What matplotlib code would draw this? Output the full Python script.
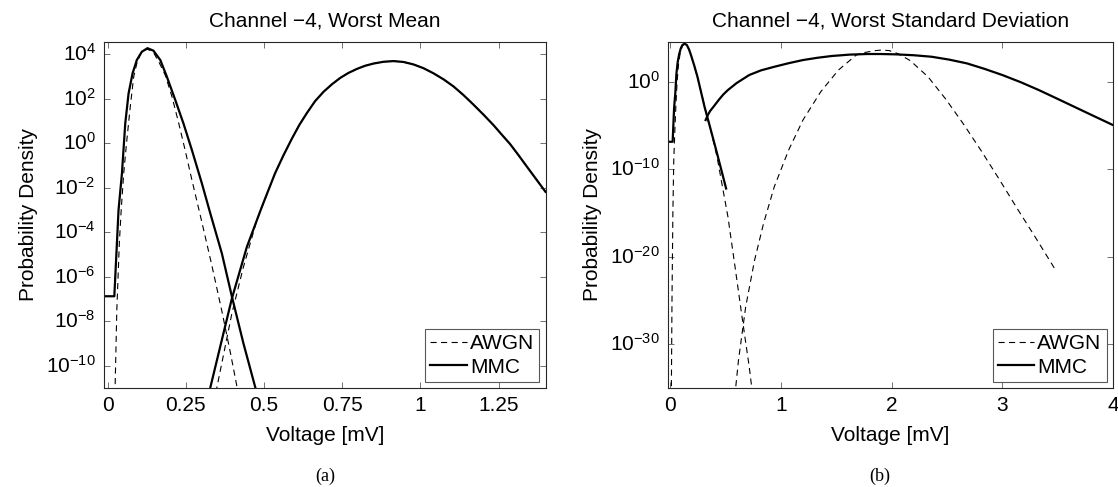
import matplotlib
matplotlib.use('Agg')
import matplotlib.pyplot as plt
import numpy as np

plt.rcParams['font.family'] = ['Liberation Sans', 'DejaVu Sans']
plt.rcParams['mathtext.default'] = 'regular'

#------------------------------------------------------------------------------
# DATA (voltage in mV, log10 of probability density)

# (a) worst mean
a_mmc1_x = [-0.01, 0.021, 0.0345, 0.0454, 0.056, 0.0666, 0.0794, 0.093, 0.109, 0.127,
            0.146, 0.168, 0.189, 0.216, 0.242, 0.269, 0.301, 0.328, 0.365, 0.398,
            0.434, 0.472, 0.48]
a_mmc1_log = [-6.88, -6.88, -3.01, -1.36, 0.885, 2.23, 3.13, 3.73, 4.10, 4.26,
              4.15, 3.73, 2.98, 1.93, 0.885, -0.31, -1.81, -3.16, -4.96, -6.95,
              -9.0, -10.98, -11.4]

a_awgn1_x = [0.023, 0.029, 0.037, 0.043, 0.051, 0.061, 0.072, 0.083, 0.093, 0.105,
             0.125, 0.145, 0.165, 0.184, 0.205, 0.226, 0.248, 0.269, 0.285, 0.301,
             0.333, 0.365, 0.392, 0.412, 0.418]
a_awgn1_log = [-11.3, -7.5, -4.5, -3.0, -1.36, 0.13, 1.63, 2.98, 3.58, 4.0,
               4.22, 4.1, 3.6, 3.05, 2.1, 0.95, -0.35, -1.65, -2.6, -3.55,
               -5.5, -7.55, -9.4, -10.85, -11.3]

a_mmc2_x = [0.325, 0.328, 0.397, 0.445, 0.493, 0.535, 0.562, 0.589, 0.613, 0.637,
            0.663, 0.690, 0.717, 0.744, 0.770, 0.797, 0.823, 0.850, 0.882, 0.914,
            0.946, 0.978, 1.010, 1.042, 1.074, 1.106, 1.138, 1.170, 1.202, 1.234,
            1.260, 1.287, 1.314, 1.340, 1.370, 1.400]
a_mmc2_log = [-11.2, -10.98, -6.98, -4.66, -2.86, -1.36, -0.55, 0.2, 0.82, 1.35,
              1.88, 2.3, 2.64, 2.93, 3.15, 3.33, 3.47, 3.57, 3.65, 3.68,
              3.64, 3.53, 3.36, 3.13, 2.86, 2.54, 2.15, 1.72, 1.27, 0.8,
              0.38, -0.05, -0.55, -1.05, -1.62, -2.19]

a_awgn2_x = [0.345, 0.349, 0.397, 0.434, 0.477, 0.498, 0.535, 0.562, 0.589, 0.613,
             0.637, 0.663, 0.690, 0.717, 0.744, 0.770, 0.797, 0.823, 0.850, 0.882,
             0.914, 0.946, 0.978, 1.010, 1.042, 1.074, 1.106, 1.138, 1.170, 1.202,
             1.234, 1.260, 1.287, 1.314, 1.340, 1.370, 1.400]
a_awgn2_log = [-11.2, -10.98, -7.65, -5.56, -3.46, -2.71, -1.36, -0.55, 0.2, 0.82,
               1.35, 1.88, 2.3, 2.64, 2.93, 3.15, 3.33, 3.47, 3.57, 3.65,
               3.68, 3.64, 3.53, 3.36, 3.13, 2.86, 2.54, 2.15, 1.72, 1.27,
               0.8, 0.38, -0.05, -0.55, -1.05, -1.62, -2.19]

# (b) worst standard deviation
b_mmc1_x = [-0.02, 0.022, 0.035, 0.046, 0.056, 0.067, 0.08, 0.095, 0.11, 0.13,
            0.15, 0.17, 0.19, 0.216, 0.246, 0.310, 0.359, 0.423, 0.505]
b_mmc1_log = [-6.86, -6.86, -3.0, -1.3, 0.9, 2.2, 3.1, 3.8, 4.2, 4.35,
              4.2, 3.7, 2.95, 1.9, 0.57, -2.86, -5.14, -8.18, -12.2]

b_awgn1_x = [0.010, 0.016, 0.024, 0.032, 0.042, 0.052, 0.062, 0.075, 0.09, 0.11,
             0.13, 0.15, 0.17, 0.19, 0.216, 0.246, 0.28, 0.326, 0.375, 0.423,
             0.472, 0.521, 0.585, 0.649, 0.714, 0.737, 0.742]
b_awgn1_log = [-36, -25, -15, -9, -5.5, -2.5, 0.0, 2.0, 3.3, 4.1,
               4.3, 4.15, 3.65, 2.9, 1.85, 0.5, -1.2, -3.6, -6.0, -8.57,
               -12.0, -15.4, -21.1, -26.9, -32.6, -35.0, -35.6]

b_mmc2_x = [0.320, 0.340, 0.360, 0.391, 0.440, 0.480, 0.521, 0.600, 0.714, 0.820,
            0.940, 1.070, 1.199, 1.330, 1.457, 1.620, 1.780, 1.900, 2.040, 2.200,
            2.360, 2.520, 2.680, 2.840, 3.000, 3.170, 3.330, 3.490, 3.650, 3.820, 4.0]
b_mmc2_log = [-4.38, -3.8, -3.35, -2.86, -2.05, -1.45, -0.95, -0.15, 0.77, 1.3,
              1.71, 2.12, 2.48, 2.74, 2.94, 3.1, 3.17, 3.17, 3.13, 3.03,
              2.86, 2.53, 2.10, 1.47, 0.77, -0.07, -0.95, -1.9, -2.86, -3.88, -4.95]

b_awgn2_x = [0.585, 0.591, 0.617, 0.682, 0.762, 0.843, 0.940, 1.070, 1.199, 1.360,
             1.520, 1.680, 1.760, 1.845, 1.910, 1.980, 2.060, 2.170, 2.330, 2.490,
             2.650, 2.810, 2.970, 3.140, 3.300, 3.485]
b_awgn2_log = [-36, -35.0, -31.8, -25.7, -20.4, -16.2, -12.0, -7.8, -4.38, -1.14,
               1.34, 3.05, 3.35, 3.55, 3.62, 3.56, 3.2, 2.4, 0.55, -2.0,
               -4.85, -7.9, -11.1, -14.6, -17.8, -21.6]

a_xticks = [0, 0.25, 0.5, 0.75, 1, 1.25]
a_xticklabels = ['0', '0.25', '0.5', '0.75', '1', '1.25']
a_yexp = [4, 2, 0, -2, -4, -6, -8, -10]
b_xticks = [0, 1, 2, 3, 4]
b_xticklabels = ['0', '1', '2', '3', '4']
b_yexp = [0, -10, -20, -30]

#------------------------------------------------------------------------------
# PLOT

fig = plt.figure(figsize=(11.18, 4.87), dpi=100)
ax1 = fig.add_axes([104/1118, 99/487, 441.5/1118, 346.5/487])
ax2 = fig.add_axes([668/1118, 99/487, 445/1118, 346.5/487])

fs = 15
dash = (5.5, 4)

def draw(ax, curves, title, xlim, ylim, xticks, xticklabels, yexp, tag, tagx):
    for x, lg, kind in curves:
        y = 10.0**np.array(lg)
        if kind == 'awgn':
            ax.plot(x, y, color='k', lw=0.8, ls=(0, dash))
        else:
            ax.plot(x, y, color='k', lw=1.6)
    ax.set_yscale('log')
    ax.set_xlim(xlim)
    ax.set_ylim(ylim)
    ax.set_xticks(xticks)
    ax.set_xticklabels(xticklabels)
    ax.set_yticks([10.0**e for e in yexp])
    ax.set_yticklabels(['$10^{%d}$' % e for e in yexp])
    for lab in ax.get_yticklabels():
        lab.set_va('center')
    ax.minorticks_off()
    ax.tick_params(direction='in', top=True, right=True, length=4.5, width=0.6,
                   labelsize=fs, pad=6, color='0.35')
    for s in ax.spines.values():
        s.set_linewidth(0.8)
        s.set_color('0.15')
    ax.set_title(title, fontsize=fs, pad=11)
    ax.set_xlabel('Voltage [mV]', fontsize=fs, labelpad=8)
    ax.set_ylabel('Probability Density', fontsize=fs, labelpad=6)
    # legend proxies
    ax.plot([], [], color='k', lw=0.8, ls=(0, dash), label='AWGN')
    ax.plot([], [], color='k', lw=1.6, label='MMC')
    leg = ax.legend(loc='lower right', fontsize=fs, fancybox=False, framealpha=1,
                    edgecolor='0.35', handlelength=1.75, handletextpad=0.15,
                    labelspacing=0.2, borderpad=0.25, borderaxespad=0.3)
    leg.get_frame().set_linewidth(0.8)
    fig.text(tagx, 1 - 476/487, tag, ha='center', va='center', fontsize=13,
             family=['Liberation Serif', 'DejaVu Serif'])

draw(ax1, [(a_awgn1_x, a_awgn1_log, 'awgn'), (a_awgn2_x, a_awgn2_log, 'awgn'),
           (a_mmc1_x, a_mmc1_log, 'mmc'), (a_mmc2_x, a_mmc2_log, 'mmc')],
     'Channel \u22124, Worst Mean', (-0.012, 1.4), (1e-11, 10**4.56),
     a_xticks, a_xticklabels, a_yexp, '(a)', 325/1118)

draw(ax2, [(b_awgn1_x, b_awgn1_log, 'awgn'), (b_awgn2_x, b_awgn2_log, 'awgn'),
           (b_mmc1_x, b_mmc1_log, 'mmc'), (b_mmc2_x, b_mmc2_log, 'mmc')],
     'Channel \u22124, Worst Standard Deviation', (-0.02, 4), (1e-35, 10**4.6),
     b_xticks, b_xticklabels, b_yexp, '(b)', 880/1118)

fig.savefig('out.png', dpi=100)
